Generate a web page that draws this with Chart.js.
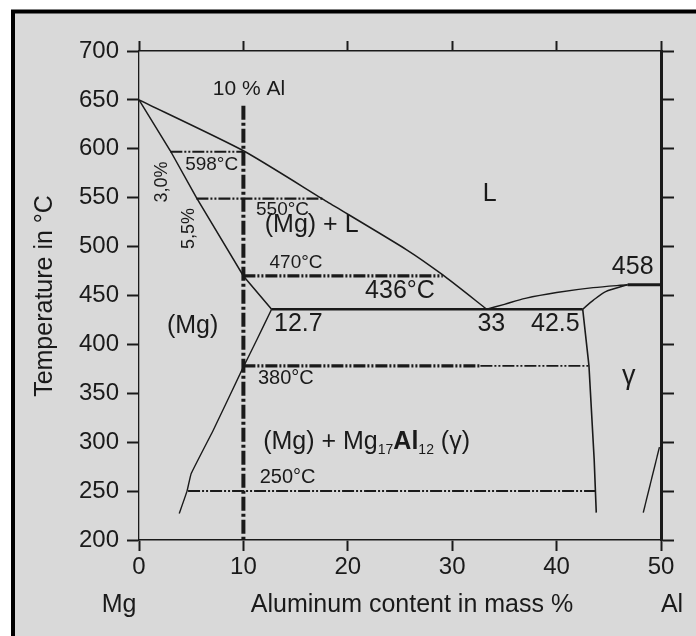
<!DOCTYPE html>
<html>
<head>
<meta charset="utf-8">
<script src="https://cdn.jsdelivr.net/npm/chart.js@4.4.1/dist/chart.umd.min.js"></script>
<style>
  html, body { margin: 0; padding: 0; background: #fff; }
  #wrap { width: 696px; height: 636px; }
</style>
</head>
<body>
<div id="wrap"><canvas id="myChart" width="696" height="636"></canvas></div>
<script>
// axis ticks
const tempTicks = [200, 250, 300, 350, 400, 450, 500, 550, 600, 650, 700];
const alTicks = [0, 10, 20, 30, 40, 50];

// phase boundaries, Al in mass % and temperature in °C
const liqMgAl = [0, 10, 18, 25.6, 29.1, 33.3];
const liqMgT = [650, 598, 546, 497, 471, 436];
const solMgAl = [0, 3, 5.5, 10, 12.7];
const solMgT = [650, 598, 550, 470, 436];
const solvMgAl = [12.7, 11.3, 10, 7.1, 5.0, 4.6, 3.85];
const solvMgT = [436, 405, 377, 312, 268, 250, 227];
const eutAl = [12.7, 42.5];
const eutT = [436, 436];
const liqGamAl = [33.3, 35, 37, 40, 43.5, 46.8];
const liqGamT = [436, 441, 447, 453, 458, 461];
const solGamAl = [42.5, 43.5, 44.7, 46.8];
const solGamT = [436, 445, 454, 461];
const solvGamAl = [42.5, 43.1, 43.6, 43.8];
const solvGamT = [436, 378, 282, 228];
const peritAl = [46.8, 50];
const peritT = [461, 461];
const solvAlAl = [48.3, 49.85];
const solvAlT = [228, 295];

// cooling of the 10 % Al alloy
const alloyAl = [10, 10];
const alloyT = [644, 200];
const iso598Al = [3, 10];
const iso598T = [597, 597];
const iso550Al = [5.5, 17.7];
const iso550T = [549, 549];
const iso470Al = [10, 29.1];
const iso470T = [470, 470];
const iso380Al = [10, 32.7, 43.1];
const iso380T = [378, 378, 378];
const iso250Al = [4.7, 43.7];
const iso250T = [250, 250];

const fontFam = "'Liberation Sans', Arial, Helvetica, sans-serif";
const ink = '#1a1a1a';

function pts(xs, ts) {
    var out = [];
    for (let i = 0; i < xs.length; i++) {
        out.push({x: xs[i], y: ts[i]});
    }
    return out;
}

function curve(xs, ts, width, tension) {
    return {data: pts(xs, ts), borderColor: ink, borderWidth: width, tension: tension || 0, pointRadius: 0, fill: false};
}

function dashed(xs, ts, width, dash) {
    return {data: pts(xs, ts), borderColor: ink, borderWidth: width, borderDash: dash, pointRadius: 0, fill: false, borderCapStyle: 'butt'};
}

const dashDots = [12, 2, 2, 2, 2, 2];

var datasets = [
    curve(liqMgAl, liqMgT, 1.5, 0.2),
    curve(solMgAl, solMgT, 1.5),
    curve(solvMgAl, solvMgT, 1.4, 0.1),
    curve(eutAl, eutT, 2.4),
    curve(liqGamAl, liqGamT, 1.4, 0.3),
    curve(solGamAl, solGamT, 1.4, 0.3),
    curve(solvGamAl, solvGamT, 1.6),
    curve(peritAl, peritT, 3),
    curve(solvAlAl, solvAlT, 1.4),
    dashed(iso598Al, iso598T, 2.2, dashDots),
    dashed(iso550Al, iso550T, 2.2, dashDots),
    dashed(iso470Al, iso470T, 3.2, dashDots),
    dashed(iso380Al.slice(0, 2), iso380T.slice(0, 2), 3.2, dashDots),
    dashed(iso380Al.slice(1), iso380T.slice(1), 1.8, dashDots),
    dashed(iso250Al, iso250T, 2, dashDots),
    dashed(alloyAl, alloyT, 4, [14, 3, 3, 3])
];

// labels in the diagram, placed in data units
const notes = [
    {text: '10 % Al', x: 10.54, y: 661, size: 21},
    {text: '598°C', x: 6.96, y: 583.4, size: 19},
    {text: '3,0%', x: 2.2, y: 566, size: 18, rot: true},
    {text: '5,5%', x: 4.76, y: 518.5, size: 18, rot: true},
    {text: '550°C', x: 13.75, y: 537.9, size: 19},
    {text: '(Mg) + L', x: 16.54, y: 522, size: 25},
    {text: '470°C', x: 15.04, y: 483.7, size: 19},
    {text: '436°C', x: 25, y: 455, size: 25},
    {text: 'L', x: 33.6, y: 553.8, size: 25},
    {text: '458', x: 47.29, y: 478.6, size: 25},
    {text: '(Mg)', x: 5.14, y: 419, size: 25},
    {text: '12.7', x: 15.26, y: 420.7, size: 25},
    {text: '33', x: 33.75, y: 420.7, size: 25},
    {text: '42.5', x: 39.88, y: 420.7, size: 25},
    {text: '380°C', x: 14.06, y: 365.3, size: 20},
    {text: 'γ', x: 46.9, y: 359, size: 27, base: 'alphabetic'},
    {text: '250°C', x: 14.23, y: 263.9, size: 20}
];

const framePlugin = {
    id: 'frame',
    beforeDraw(chart) {
        const ctx = chart.ctx;
        ctx.save();
        ctx.fillStyle = '#ffffff';
        ctx.fillRect(0, 0, chart.width, chart.height);
        ctx.fillStyle = '#d9d9d9';
        ctx.fillRect(13, 12, chart.width - 13, chart.height - 12);
        ctx.strokeStyle = '#000000';
        ctx.lineWidth = 4;
        ctx.beginPath();
        ctx.moveTo(13, chart.height);
        ctx.lineTo(13, 11.5);
        ctx.lineTo(chart.width, 11.5);
        ctx.stroke();
        ctx.restore();
    }
};

const notesPlugin = {
    id: 'notes',
    afterDatasetsDraw(chart) {
        const ctx = chart.ctx;
        const sx = chart.scales.x;
        const sy = chart.scales.y;
        ctx.save();
        ctx.fillStyle = ink;
        notes.forEach(n => {
            const px = sx.getPixelForValue(n.x);
            const py = sy.getPixelForValue(n.y);
            ctx.font = n.size + 'px ' + fontFam;
            ctx.textAlign = 'center';
            ctx.textBaseline = n.base || 'middle';
            if (n.rot) {
                ctx.save();
                ctx.translate(px, py);
                ctx.rotate(-Math.PI / 2);
                ctx.fillText(n.text, 0, 0);
                ctx.restore();
            } else {
                ctx.fillText(n.text, px, py);
            }
        });

        // (Mg) + Mg17Al12 (γ) with subscripts
        const parts = [
            {t: '(Mg) + Mg', s: 25, dy: 0, w: 'normal'},
            {t: '17', s: 14, dy: 5, w: 'normal'},
            {t: 'Al', s: 25, dy: 0, w: 'bold'},
            {t: '12', s: 14, dy: 5, w: 'normal'},
            {t: ' (γ)', s: 25, dy: 0, w: 'normal'}
        ];
        var total = 0;
        parts.forEach(p => {
            ctx.font = p.w + ' ' + p.s + 'px ' + fontFam;
            p.width = ctx.measureText(p.t).width;
            total += p.width;
        });
        var cx = sx.getPixelForValue(21.8) - total / 2;
        const by = sy.getPixelForValue(302.2) + 9;
        ctx.textAlign = 'left';
        ctx.textBaseline = 'alphabetic';
        parts.forEach(p => {
            ctx.font = p.w + ' ' + p.s + 'px ' + fontFam;
            ctx.fillText(p.t, cx, by + p.dy);
            cx += p.width;
        });

        // axis titles
        ctx.font = '25px ' + fontFam;
        ctx.textBaseline = 'middle';
        ctx.textAlign = 'center';
        ctx.fillText('Mg', 119, 605);
        ctx.fillText('Aluminum content in mass %', 412, 605);
        ctx.fillText('Al', 672, 605);
        ctx.save();
        ctx.translate(45, 296);
        ctx.rotate(-Math.PI / 2);
        ctx.fillText('Temperature in °C', 0, 0);
        ctx.restore();
        ctx.restore();
    }
};

function gridOpts(len) {
    return {drawOnChartArea: false, drawTicks: true, tickLength: len, tickWidth: 2, color: ink};
}

const ctx = document.getElementById('myChart').getContext('2d');
const myChart = new Chart(ctx, {
    type: 'line',
    data: {datasets: datasets},
    options: {
        responsive: false,
        animation: false,
        events: [],
        layout: {padding: 0},
        plugins: {legend: {display: false}, tooltip: {enabled: false}},
        scales: {
            x: {
                type: 'linear', position: 'bottom', min: 0, max: 50,
                afterBuildTicks: s => { s.ticks = alTicks.map(v => ({value: v})); },
                afterFit: s => { s.height = 96; },
                grid: gridOpts(11),
                border: {color: ink, width: 1.6},
                ticks: {color: ink, padding: 2, font: {family: fontFam, size: 24}}
            },
            xTop: {
                type: 'linear', position: 'top', min: 0, max: 50,
                afterBuildTicks: s => { s.ticks = alTicks.map(v => ({value: v})); },
                afterFit: s => { s.height = 51; },
                grid: gridOpts(10),
                border: {color: ink, width: 1.6},
                ticks: {display: false}
            },
            y: {
                type: 'linear', position: 'left', min: 200, max: 700,
                afterBuildTicks: s => { s.ticks = tempTicks.map(v => ({value: v})); },
                afterFit: s => { s.width = 139; },
                grid: gridOpts(12),
                border: {color: ink, width: 1.3},
                ticks: {color: ink, padding: 8, font: {family: fontFam, size: 24}}
            },
            yRight: {
                type: 'linear', position: 'right', min: 200, max: 700,
                afterBuildTicks: s => { s.ticks = tempTicks.map(v => ({value: v})); },
                afterFit: s => { s.width = 35; },
                grid: gridOpts(13),
                border: {color: ink, width: 3},
                ticks: {display: false}
            }
        }
    },
    plugins: [framePlugin, notesPlugin]
});
</script>
</body>
</html>
